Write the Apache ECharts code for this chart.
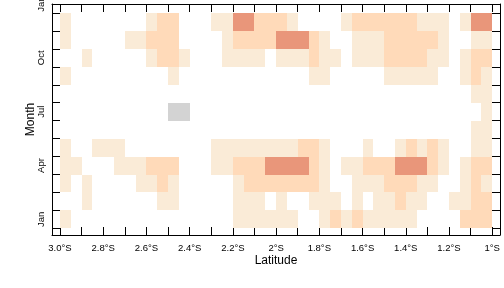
<!DOCTYPE html>
<html><head><meta charset="utf-8">
<script src="https://cdn.jsdelivr.net/npm/echarts@6/dist/echarts.min.js"></script>
<style>html,body{margin:0;padding:0;background:#fff}#c{width:504px;height:288px}</style>
</head><body><div id="c"></div>
<script>
const _ = null;
// cell centres (degrees latitude, negative = south)
const latitudes = [-2.975,-2.925,-2.875,-2.825,-2.775,-2.725,-2.675,-2.625,-2.575,-2.525,
  -2.475,-2.425,-2.375,-2.325,-2.275,-2.225,-2.175,-2.125,-2.075,-2.025,
  -1.975,-1.925,-1.875,-1.825,-1.775,-1.725,-1.675,-1.625,-1.575,-1.525,
  -1.475,-1.425,-1.375,-1.325,-1.275,-1.225,-1.175,-1.125,-1.075,-1.025];
const cellWidth = 0.05;
const monthNumbers = [1,2,3,4,5,6,7,8,9,10,11,12];
// class per latitude cell: 0 = zero (grey), 1 low, 2 mid, 3 high, _ = no data
const valJan = [1,_,_,_,_,_,_,_,_,_, _,_,_,_,_,_,1,1,1,1, 1,1,_,_,1,2,1,2,1,1, 1,1,1,_,_,_,_,2,2,2];
const valFeb = [_,_,1,_,_,_,_,_,_,1, 1,_,_,_,_,_,1,1,1,_, 1,_,_,1,1,1,_,1,_,1, 1,2,1,1,_,_,1,1,2,2];
const valMar = [1,_,1,_,_,_,_,1,1,2, 1,_,_,_,_,_,1,2,2,2, 2,2,2,2,1,_,_,1,1,1, 2,2,2,1,1,_,_,1,2,1];
const valApr = [1,1,_,_,_,1,1,1,2,2, 2,_,_,_,1,1,2,2,2,3, 3,3,3,2,1,_,1,1,2,2, 2,3,3,3,2,1,_,1,2,2];
const valMay = [1,_,_,1,1,1,_,_,_,_, _,_,_,_,1,1,1,1,1,1, 1,1,2,2,1,_,_,_,1,_, _,1,2,1,2,1,_,_,1,1];
const valJun = [_,_,_,_,_,_,_,_,_,_, _,_,_,_,_,_,_,_,_,_, _,_,_,_,_,_,_,_,_,_, _,_,_,_,_,_,_,_,1,1];
const valJul = [_,_,_,_,_,_,_,_,_,_, 0,0,_,_,_,_,_,_,_,_, _,_,_,_,_,_,_,_,_,_, _,_,_,_,_,_,_,_,_,1];
const valAug = [_,_,_,_,_,_,_,_,_,_, _,_,_,_,_,_,_,_,_,_, _,_,_,_,_,_,_,_,_,_, _,_,_,_,_,_,_,_,1,1];
const valSep = [1,_,_,_,_,_,_,_,_,_, 1,_,_,_,_,_,_,_,_,_, _,_,_,1,1,_,_,_,_,_, 1,1,1,1,1,_,_,1,2,1];
const valOct = [_,_,1,_,_,_,_,_,1,2, 2,1,_,_,_,1,1,1,1,_, 1,1,1,2,1,1,_,1,1,1, 2,2,2,2,1,1,_,1,2,2];
const valNov = [1,_,_,_,_,_,1,1,2,2, 2,_,_,_,_,1,2,2,2,2, 3,3,3,2,1,_,_,1,1,1, 2,2,2,2,2,1,_,_,1,1];
const valDec = [1,_,_,_,_,_,_,_,1,2, 2,_,_,_,1,1,3,3,2,2, 2,1,_,_,_,_,1,2,2,2, 2,2,2,1,1,1,_,1,3,3];
const monthRows = [valJan,valFeb,valMar,valApr,valMay,valJun,valJul,valAug,valSep,valOct,valNov,valDec];

const xTickValues = [-3.0,-2.9,-2.8,-2.7,-2.6,-2.5,-2.4,-2.3,-2.2,-2.1,-2.0,-1.9,-1.8,-1.7,-1.6,-1.5,-1.4,-1.3,-1.2,-1.1,-1.0];
const xLabelValues = [-3.0,-2.8,-2.6,-2.4,-2.2,-2.0,-1.8,-1.6,-1.4,-1.2,-1.0];
const xLabelTexts = ['3.0°S','2.8°S','2.6°S','2.4°S','2.2°S','2°S','1.8°S','1.6°S','1.4°S','1.2°S','1°S'];
const yTickValues = [0.5,1.5,2.5,3.5,4.5,5.5,6.5,7.5,8.5,9.5,10.5,11.5,12.5];
const yLabelValues = [1,4,7,10,13];
const yLabelTexts = ['Jan','Apr','Jul','Oct','Jan'];

const palette = {0:'#D3D3D3',1:'#FAEBD7',2:'#FFDAB9',3:'#E9967A'};
const data = [];
monthRows.forEach((row, mi) => {
  row.forEach((v, ci) => { if (v !== null) data.push([latitudes[ci], monthNumbers[mi], v]); });
});

const FONT = 'Liberation Sans';
function labelFor(values, texts){
  return v => { for (let i=0;i<values.length;i++) if (Math.abs(values[i]-v)<1e-6) return texts[i]; return ''; };
}
const tickStyle = {show:true, inside:true, length:8, lineStyle:{color:'#000', width:1}};
const lineStyle = {show:true, lineStyle:{color:'#000', width:1}};
const chart = echarts.init(document.getElementById('c'), null, {renderer:'canvas'});
chart.setOption({
  animation:false,
  backgroundColor:'#fff',
  grid:{left:52, right:4, top:4, bottom:53, containLabel:false, outerBoundsMode:'none'},
  xAxis:[{
    type:'value', position:'bottom', min:-3.037, max:-0.964,
    name:'Latitude', nameLocation:'middle', nameGap:20, nameMoveOverlap:false,
    nameTextStyle:{fontFamily:FONT, fontSize:12, color:'#000'},
    axisLine:lineStyle, splitLine:{show:false},
    axisTick:Object.assign({customValues:xTickValues}, tickStyle),
    axisLabel:{customValues:xLabelValues, formatter:labelFor(xLabelValues,xLabelTexts), margin:8,
      fontFamily:FONT, fontSize:9.5, color:'#000', showMinLabel:true, showMaxLabel:true, hideOverlap:false}
  },{
    type:'value', position:'top', min:-3.037, max:-0.964,
    axisLine:lineStyle, splitLine:{show:false},
    axisTick:Object.assign({customValues:xTickValues}, tickStyle),
    axisLabel:{show:false}
  }],
  yAxis:[{
    type:'value', position:'left', min:0.13, max:13,
    name:'Month', nameLocation:'middle', nameGap:15, nameRotate:90, nameMoveOverlap:false,
    nameTextStyle:{fontFamily:FONT, fontSize:12, color:'#000'},
    axisLine:lineStyle, splitLine:{show:false},
    axisTick:Object.assign({customValues:yTickValues}, tickStyle),
    axisLabel:{customValues:yLabelValues, formatter:labelFor(yLabelValues,yLabelTexts), rotate:90, margin:6,
      fontFamily:FONT, fontSize:9.5, color:'#000', showMinLabel:true, showMaxLabel:true, hideOverlap:false}
  },{
    type:'value', position:'right', min:0.13, max:13,
    axisLine:lineStyle, splitLine:{show:false},
    axisTick:Object.assign({customValues:yTickValues}, tickStyle),
    axisLabel:{show:false}
  }],
  series:[{
    type:'custom', coordinateSystem:'cartesian2d', xAxisIndex:0, yAxisIndex:0,
    encode:{x:0, y:1}, data:data, clip:true,
    renderItem:function(params, api){
      const x = api.value(0), y = api.value(1), lvl = api.value(2);
      const p1 = api.coord([x - cellWidth/2, y + 0.5]);
      const p2 = api.coord([x + cellWidth/2, y - 0.5]);
      const x1 = Math.round(p1[0]), y1 = Math.round(p1[1]);
      const x2 = Math.round(p2[0]), y2 = Math.round(p2[1]);
      return {type:'rect', shape:{x:x1, y:y1, width:x2-x1, height:y2-y1}, style:{fill:palette[lvl], stroke:null}};
    }
  }]
});
</script></body></html>
